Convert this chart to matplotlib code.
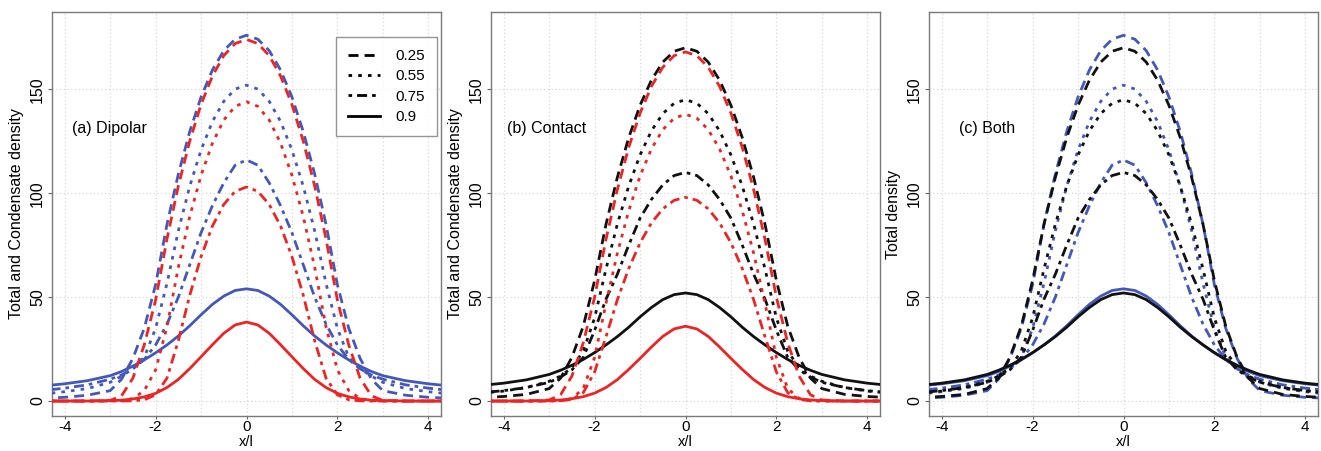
import matplotlib
matplotlib.use('Agg')
import matplotlib.pyplot as plt
from matplotlib.lines import Line2D

plt.rcParams['font.family'] = ['Liberation Sans', 'DejaVu Sans']

# positions x/l where the curves were read
x = [-4.5, -4, -3.5, -3, -2.75, -2.5, -2.25, -2, -1.75, -1.5, -1.25, -1, -0.75, -0.5, -0.25,
     0, 0.25, 0.5, 0.75, 1, 1.25, 1.5, 1.75, 2, 2.25, 2.5, 2.75, 3, 3.5, 4, 4.5]

# dipolar: total density (blue)
dip_tot_25 = [1.3, 1.8, 2.8, 5, 10.5, 20.5, 35, 56, 85, 109.2, 129.6, 146.3, 159.3, 168.6, 174.1, 176,
              174.1, 168.6, 159.3, 146.3, 129.6, 109.2, 85, 56, 35, 20.5, 10.5, 5, 2.8, 1.8, 1.3]
dip_tot_55 = [3.3, 4.5, 6, 9, 12, 15.5, 21, 35, 56.6, 81.9, 103.3, 120.8, 134.5, 144.2, 150.1, 152,
              150.1, 144.2, 134.5, 120.8, 103.3, 81.9, 56.6, 35, 21, 15.5, 12, 9, 6, 4.5, 3.3]
dip_tot_75 = [5, 6.2, 7.8, 10.5, 12.5, 15.5, 20, 27, 37, 50, 65.5, 81, 94, 105, 113.5, 116,
              113.5, 105, 94, 81, 65.5, 50, 37, 27, 20, 15.5, 12.5, 10.5, 7.8, 6.2, 5]
dip_tot_90 = [7.2, 8.3, 9.8, 12.2, 14.2, 16.8, 19.8, 23.2, 27, 31.3, 36.2, 41.5, 46.5, 50.5, 53.2, 54,
              53.2, 50.5, 46.5, 41.5, 36.2, 31.3, 27, 23.2, 19.8, 16.8, 14.2, 12.2, 9.8, 8.3, 7.2]

# dipolar: condensate density (red)
dip_con_25 = [0, 0, 0, 0.3, 2.5, 11, 27, 48.6, 78, 103.5, 125, 142.7, 156.4, 166.2, 172, 174,
              172, 166.2, 156.4, 142.7, 125, 103.5, 78, 48.6, 27, 11, 2.5, 0.3, 0, 0, 0]
dip_con_55 = [0, 0, 0, 0, 0.2, 1.2, 5, 15, 35.7, 64.4, 88.7, 108.6, 124.1, 135.2, 141.8, 144,
              141.8, 135.2, 124.1, 108.6, 88.7, 64.4, 35.7, 15, 5, 1.2, 0.2, 0, 0, 0, 0]
dip_con_75 = [0, 0, 0, 0, 0, 0.1, 0.6, 3, 11, 29, 50.8, 69.5, 84.2, 94.6, 100.9, 103,
              100.9, 94.6, 84.2, 69.5, 50.8, 29, 11, 3, 0.6, 0.1, 0, 0, 0, 0, 0]
dip_con_90 = [0, 0, 0, 0.2, 0.4, 1.0, 2.0, 3.7, 6.5, 10.4, 15.6, 21.3, 27.1, 32.6, 36.6, 38,
              36.6, 32.6, 27.1, 21.3, 15.6, 10.4, 6.5, 3.7, 2.0, 1.0, 0.4, 0.2, 0, 0, 0]

# contact: total density (black)
con_tot_25 = [1.6, 2.2, 3.2, 6, 11, 21, 36, 58, 85, 107.6, 126.7, 142.3, 154.4, 163.1, 168.3, 170,
              168.3, 163.1, 154.4, 142.3, 126.7, 107.6, 85, 58, 36, 21, 11, 6, 3.2, 2.2, 1.6]
con_tot_55 = [3.8, 4.8, 6.5, 9.5, 12, 16, 24, 40, 63.5, 85.1, 103.4, 118.4, 130, 138.3, 143.3, 145,
              143.3, 138.3, 130, 118.4, 103.4, 85.1, 63.5, 40, 24, 16, 12, 9.5, 6.5, 4.8, 3.8]
con_tot_75 = [4, 5, 6.5, 9, 11.5, 15, 21, 34, 49, 61, 75, 88, 97, 104, 108.5, 110,
              108.5, 104, 97, 88, 75, 61, 49, 34, 21, 15, 11.5, 9, 6.5, 5, 4]
con_tot_90 = [7.5, 8.6, 10.2, 12.8, 14.8, 17.2, 20, 23.3, 27, 31, 35.5, 40.5, 45, 48.8, 51.2, 52,
              51.2, 48.8, 45, 40.5, 35.5, 31, 27, 23.3, 20, 17.2, 14.8, 12.8, 10.2, 8.6, 7.5]

# contact: condensate density (red)
con_con_25 = [0, 0, 0, 0.5, 3, 12, 28, 50, 77.8, 101.7, 122, 138.5, 151.4, 160.6, 166.2, 168,
              166.2, 160.6, 151.4, 138.5, 122, 101.7, 77.8, 50, 28, 12, 3, 0.5, 0, 0, 0]
con_con_55 = [0, 0, 0, 0, 0.2, 1.2, 6, 21, 46.9, 71.1, 91.5, 108.3, 121.3, 130.6, 136.1, 138,
              136.1, 130.6, 121.3, 108.3, 91.5, 71.1, 46.9, 21, 6, 1.2, 0.2, 0, 0, 0, 0]
con_con_75 = [0, 0, 0, 0, 0.1, 0.8, 4, 14, 30.9, 48.7, 63.7, 76.1, 85.7, 92.5, 96.6, 98,
              96.6, 92.5, 85.7, 76.1, 63.7, 48.7, 30.9, 14, 4, 0.8, 0.1, 0, 0, 0, 0]
con_con_90 = [0, 0, 0, 0.2, 0.5, 1.1, 2.1, 3.8, 6.5, 10.3, 15.2, 20.5, 26, 31.1, 34.7, 36,
              34.7, 31.1, 26, 20.5, 15.2, 10.3, 6.5, 3.8, 2.1, 1.1, 0.5, 0.2, 0, 0, 0]

temps = ['0.25', '0.55', '0.75', '0.9']

BLUE = '#4457bb'
RED = '#ee2424'
BLACK = '#111111'

# R style line types: dashed, dotted, dot-dash, solid
styles = [(0, (3.6, 2.2)), (0, (1.3, 2.2)), (0, (1.3, 1.8, 3.6, 1.8)), '-']
LW = 2.0

fig = plt.figure(figsize=(13.21, 4.51), dpi=100)
W, H = 1321, 451
lefts = [52, 491, 929]
boxes = []
for l in lefts:
    boxes.append(fig.add_axes([l / W, 1 - 416 / H, 389 / W, 404 / H]))


def draw(ax, curves, color):
    for y, ls in zip(curves, styles):
        ax.plot(x, y, color=color, lw=LW, linestyle=ls, dash_capstyle='butt', zorder=3)


ax1, ax2, ax3 = boxes
draw(ax1, [dip_tot_25, dip_tot_55, dip_tot_75, dip_tot_90], BLUE)
draw(ax1, [dip_con_25, dip_con_55, dip_con_75, dip_con_90], RED)

draw(ax2, [con_tot_25, con_tot_55, con_tot_75, con_tot_90], BLACK)
draw(ax2, [con_con_25, con_con_55, con_con_75, con_con_90], RED)

draw(ax3, [dip_tot_25, dip_tot_55, dip_tot_75, dip_tot_90], BLUE)
draw(ax3, [con_tot_25, con_tot_55, con_tot_75, con_tot_90], BLACK)

labels = ['(a) Dipolar', '(b) Contact', '(c) Both']
label_x = [-3.85, -3.92, -3.63]
ylabels = ['Total and Condensate density', 'Total and Condensate density', 'Total density']

for ax, lab, lx, yl in zip(boxes, labels, label_x, ylabels):
    ax.set_xlim(-4.28, 4.28)
    ax.set_ylim(-7.2, 187.2)
    for gx in range(-4, 5):
        ax.axvline(gx, color='#d8d8d8', lw=0.9, linestyle=(0, (1, 2)), zorder=1)
    for gy in [0, 50, 100, 150]:
        ax.axhline(gy, color='#d8d8d8', lw=0.9, linestyle=(0, (1, 2)), zorder=1)
    ax.set_xticks([-4, -2, 0, 2, 4])
    ax.set_xticklabels(['-4', '-2', '0', '2', '4'])
    ax.set_yticks([0, 50, 100, 150])
    ax.tick_params(axis='y', labelsize=11.5, length=3, width=0.8, color='#666666', pad=2)
    ax.tick_params(axis='x', labelsize=11, length=2, width=0.8, color='#666666', pad=1)
    for t in ax.get_yticklabels():
        t.set_rotation(90)
        t.set_va('center')
    for s in ax.spines.values():
        s.set_color('#7a7a7a')
        s.set_linewidth(1.0)
    ax.text(lx, 131, lab, fontsize=11.5, va='center', ha='left')
    ax.set_ylabel(yl, fontsize=11.5)
    ax.yaxis.set_label_coords(-0.072, 0.5)
    ax.set_xlabel('x/l', fontsize=10.5)
    ax.xaxis.set_label_coords(0.5, -0.047)

handles = [Line2D([0], [0], color='black', lw=LW, linestyle=ls, dash_capstyle='butt') for ls in styles]
leg = ax1.legend(handles, temps, loc='upper left', bbox_to_anchor=(0.730, 0.939),
                 fontsize=11, frameon=True, fancybox=False, handlelength=2.1,
                 handletextpad=1.0, labelspacing=0.42, borderpad=0.8, borderaxespad=0)
leg.get_frame().set_edgecolor('#7a7a7a')
leg.get_frame().set_linewidth(1.0)

fig.savefig('out.png', dpi=100)
